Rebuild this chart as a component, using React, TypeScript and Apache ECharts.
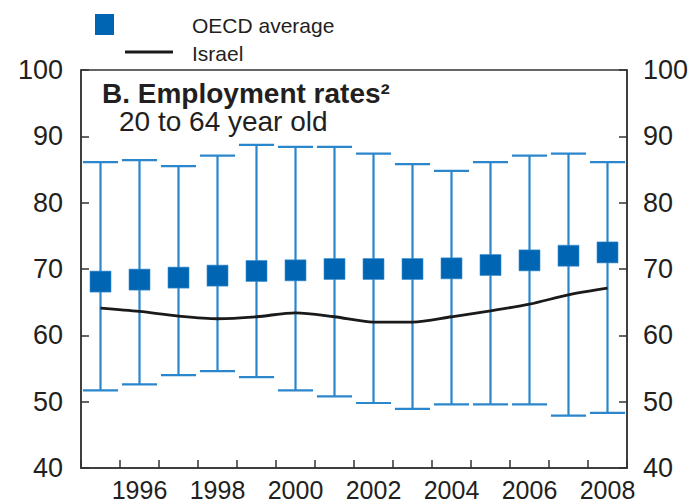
import React, { useEffect, useRef } from "react";
import * as echarts from "echarts";

const years = ["1995", "1996", "1997", "1998", "1999", "2000", "2001", "2002", "2003", "2004", "2005", "2006", "2007", "2008"];
const oecdAverage = [68.1, 68.4, 68.7, 69.0, 69.7, 69.8, 70.0, 70.0, 70.0, 70.1, 70.6, 71.3, 72.0, 72.5];
const oecdMax = [86.1, 86.4, 85.5, 87.1, 88.7, 88.4, 88.4, 87.4, 85.8, 84.8, 86.1, 87.1, 87.4, 86.1];
const oecdMin = [51.7, 52.6, 54.0, 54.6, 53.7, 51.7, 50.8, 49.8, 48.9, 49.6, 49.6, 49.6, 47.9, 48.3];
const israel = [64.1, 63.6, 62.9, 62.5, 62.8, 63.4, 62.8, 62.0, 62.0, 62.8, 63.7, 64.7, 66.1, 67.1];

const legendLabels = ["OECD average", "Israel"];
const titleText = "B. Employment rates²";
const subtitleText = "20 to 64 year old";

const FONT = "'Liberation Sans', Arial, Helvetica, sans-serif";
const TEXT = "#231f20";
const BLUE = "#0066b3";
const BAR_BLUE = "#2b86cc";

export default function App() {
  const ref = useRef<HTMLDivElement>(null);

  useEffect(() => {
    if (!ref.current) return;
    const chart = echarts.init(ref.current, null, { renderer: "svg" });

    const yAxisBase = {
      type: "value",
      min: 40,
      max: 100,
      interval: 10,
      axisLine: { show: true, lineStyle: { color: "#333", width: 1.5 } },
      axisTick: { show: true, inside: true, length: 8, lineStyle: { color: "#333", width: 1.5 } },
      splitLine: { show: false },
      axisLabel: { color: TEXT, fontSize: 27, fontFamily: FONT },
    };

    chart.setOption({
      animation: false,
      backgroundColor: "#ffffff",
      grid: {
        left: 81,
        right: 70,
        top: 70,
        bottom: 34,
        show: true,
        borderColor: "#333",
        borderWidth: 1.5,
        backgroundColor: "transparent",
      },
      xAxis: {
        type: "category",
        data: years,
        boundaryGap: true,
        axisLine: { show: true, lineStyle: { color: "#333", width: 1.5 } },
        axisTick: { show: true, inside: true, length: 8, interval: 0, alignWithLabel: false, lineStyle: { color: "#333", width: 1.5 } },
        axisLabel: {
          color: TEXT,
          fontSize: 25,
          fontFamily: FONT,
          margin: 9,
          interval: (index: number) => index % 2 === 1,
        },
        splitLine: { show: false },
      },
      yAxis: [
        { ...yAxisBase, position: "left", axisLabel: { ...yAxisBase.axisLabel, margin: 18 } },
        { ...yAxisBase, position: "right", axisLabel: { ...yAxisBase.axisLabel, margin: 16 } },
      ],
      series: [
        {
          type: "custom",
          name: "range",
          z: 1,
          encode: { x: 0, y: [1, 2] },
          data: years.map((_, i) => [i, oecdMin[i], oecdMax[i]]),
          renderItem: (params: any, api: any) => {
            const xi = api.value(0);
            const lo = api.coord([xi, api.value(1)]);
            const hi = api.coord([xi, api.value(2)]);
            const halfW = api.size([1, 0])[0] * 0.45;
            const style = { stroke: BAR_BLUE, lineWidth: 2.2, fill: "none" };
            return {
              type: "group",
              children: [
                { type: "line", shape: { x1: hi[0], y1: hi[1], x2: lo[0], y2: lo[1] }, style },
                { type: "line", shape: { x1: hi[0] - halfW, y1: hi[1], x2: hi[0] + halfW, y2: hi[1] }, style },
                { type: "line", shape: { x1: lo[0] - halfW, y1: lo[1], x2: lo[0] + halfW, y2: lo[1] }, style },
              ],
            };
          },
        },
        {
          type: "line",
          name: legendLabels[1],
          z: 2,
          data: israel,
          smooth: 0.3,
          symbol: "none",
          lineStyle: { color: "#1a1a1a", width: 2.8 },
        },
        {
          type: "scatter",
          name: legendLabels[0],
          z: 3,
          data: oecdAverage,
          symbol: "rect",
          symbolSize: [21, 21],
          itemStyle: { color: BLUE, opacity: 1, borderColor: "#3d8fd0", borderWidth: 0.6 },
        },
      ],
      graphic: [
        { type: "rect", shape: { x: 95, y: 14, width: 19, height: 21 }, style: { fill: BLUE } },
        { type: "line", shape: { x1: 125, y1: 52, x2: 173, y2: 52 }, style: { stroke: "#1a1a1a", lineWidth: 3 } },
        {
          type: "text",
          x: 192,
          y: 25,
          style: { text: legendLabels[0], fill: TEXT, fontSize: 21, fontFamily: FONT, verticalAlign: "middle", align: "left" },
        },
        {
          type: "text",
          x: 192,
          y: 53,
          style: { text: legendLabels[1], fill: TEXT, fontSize: 21, fontFamily: FONT, verticalAlign: "middle", align: "left" },
        },
        {
          type: "text",
          x: 102,
          y: 93,
          z: 10,
          style: { text: titleText, fill: TEXT, fontSize: 28, fontWeight: "bold", fontFamily: FONT, verticalAlign: "middle", align: "left" },
        },
        {
          type: "text",
          x: 119,
          y: 121,
          z: 10,
          style: { text: subtitleText, fill: TEXT, fontSize: 28, fontFamily: FONT, verticalAlign: "middle", align: "left" },
        },
      ],
    });

    return () => chart.dispose();
  }, []);

  return <div ref={ref} style={{ position: "absolute", left: 0, top: 0, width: 697, height: 502 }} />;
}
